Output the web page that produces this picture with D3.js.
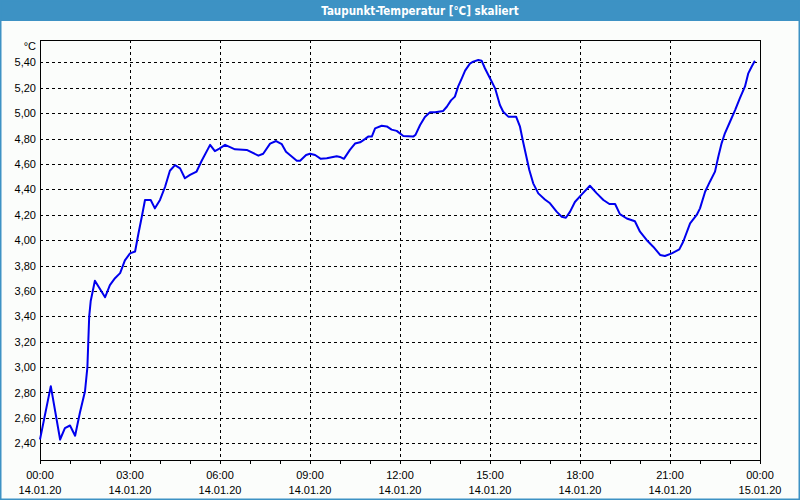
<!DOCTYPE html>
<html>
<head>
<meta charset="utf-8">
<script src="https://cdn.jsdelivr.net/npm/d3@7"></script>
<style>
  html, body { margin: 0; padding: 0; background: #fbfdfb; }
  svg { display: block; }
</style>
</head>
<body>
<svg id="chart" width="800" height="500"></svg>
<script>
// ---- data ----
const chartTitle = "Taupunkt-Temperatur [°C] skaliert";
const unitLabel = "°C";
const hours = [
  0.00, 0.36, 0.67, 0.83, 1.00, 1.17, 1.33, 1.50, 1.58, 1.64, 1.69, 1.83, 2.17, 2.33, 2.50, 2.67, 2.83,
  3.00, 3.17, 3.28, 3.39, 3.50, 3.69, 3.83, 4.00, 4.17, 4.33, 4.50, 4.67, 4.83, 5.00, 5.22, 5.39,
  5.67, 5.83, 5.98, 6.17, 6.50, 6.89, 7.28, 7.44, 7.67, 7.87, 8.06, 8.20, 8.56, 8.67, 8.87, 9.00,
  9.17, 9.36, 9.56, 9.89, 10.00, 10.13, 10.33, 10.50, 10.67, 10.83, 10.94, 11.06, 11.17, 11.39,
  11.56, 11.72, 11.89, 12.11, 12.44, 12.52, 12.67, 12.83, 13.00, 13.17, 13.44, 13.56, 13.70, 13.83,
  13.94, 14.06, 14.17, 14.33, 14.44, 14.61, 14.72, 14.83, 15.00, 15.17, 15.33, 15.44, 15.61, 15.87,
  16.00, 16.09, 16.20, 16.31, 16.44, 16.61, 16.83, 17.00, 17.22, 17.39, 17.53, 17.67, 17.83, 18.06,
  18.33, 18.56, 18.78, 18.98, 19.17, 19.33, 19.56, 19.83, 20.00, 20.22, 20.44, 20.67, 20.83, 21.06,
  21.31, 21.44, 21.67, 21.89, 22.00, 22.17, 22.33, 22.50, 22.61, 22.72, 22.83, 23.00, 23.17, 23.33,
  23.50, 23.61, 23.72, 23.83
];
const dewPoint = [
  2.43, 2.85, 2.43, 2.52, 2.54, 2.46, 2.64, 2.81, 3.00, 3.40, 3.52, 3.68, 3.55, 3.645, 3.70, 3.74, 3.84,
  3.895, 3.91, 4.05, 4.18, 4.316, 4.316, 4.25, 4.316, 4.42, 4.546, 4.59, 4.565, 4.487, 4.513, 4.54, 4.625,
  4.75, 4.70, 4.72, 4.75, 4.715, 4.71, 4.665, 4.68, 4.76, 4.78, 4.755, 4.695, 4.625, 4.625, 4.67, 4.68,
  4.67, 4.64, 4.645, 4.66, 4.655, 4.64, 4.71, 4.76, 4.77, 4.795, 4.815, 4.815, 4.88, 4.90,
  4.895, 4.87, 4.86, 4.82, 4.815, 4.83, 4.906, 4.97, 5.006, 5.006, 5.017, 5.05, 5.10, 5.13,
  5.21, 5.274, 5.334, 5.39, 5.405, 5.418, 5.413, 5.353, 5.274, 5.195, 5.064, 5.011, 4.972, 4.972,
  4.893, 4.788, 4.67, 4.552, 4.447, 4.368, 4.32, 4.29, 4.224, 4.184, 4.176, 4.224, 4.30, 4.36,
  4.428, 4.368, 4.316, 4.284, 4.284, 4.205, 4.17, 4.148, 4.066, 4.001, 3.948, 3.883, 3.875, 3.896,
  3.927, 3.987, 4.132, 4.198, 4.25, 4.381, 4.46, 4.539, 4.657, 4.762, 4.841, 4.932, 5.024, 5.117,
  5.21, 5.313, 5.365, 5.413
];
const yTicks = [2.4, 2.6, 2.8, 3.0, 3.2, 3.4, 3.6, 3.8, 4.0, 4.2, 4.4, 4.6, 4.8, 5.0, 5.2, 5.4];
const xMajorHours = [0, 3, 6, 9, 12, 15, 18, 21, 24];
const xTimeLabels = ["00:00", "03:00", "06:00", "09:00", "12:00", "15:00", "18:00", "21:00", "00:00"];
const xDateLabels = ["14.01.20", "14.01.20", "14.01.20", "14.01.20", "14.01.20", "14.01.20", "14.01.20", "14.01.20", "15.01.20"];
const xMinorHours = d3.range(0, 25, 1);

// ---- layout ----
const W = 800, H = 500;
const plot = { left: 40, top: 40, right: 760, bottom: 460 };
const svg = d3.select("#chart");
const font = "'Liberation Sans', Arial, sans-serif";

// window frame + title bar
svg.append("rect").attr("x", 0).attr("y", 0).attr("width", W).attr("height", H).attr("fill", "#fbfdfb");
svg.append("rect").attr("x", 0).attr("y", 0).attr("width", W).attr("height", 21).attr("fill", "#3d92c4");
svg.append("rect").attr("x", 0.5).attr("y", 0.5).attr("width", W - 1).attr("height", H - 1)
  .attr("fill", "none").attr("stroke", "#3d92c4").attr("stroke-width", 2);
svg.append("text").attr("x", 420).attr("y", 15).attr("text-anchor", "middle")
  .attr("font-family", "'DejaVu Sans Condensed', 'DejaVu Sans', sans-serif").attr("font-weight", "bold")
  .attr("font-size", "11.5px").attr("fill", "#ffffff").text(chartTitle);

// scales
const x = d3.scaleLinear().domain([0, 24]).range([plot.left, plot.right]);
const y = d3.scaleLinear().domain([2.2685, 5.5756]).range([plot.bottom, plot.top]);

// grid
const grid = svg.append("g").attr("stroke", "#000").attr("stroke-width", 1)
  .attr("stroke-dasharray", "3,3").attr("shape-rendering", "crispEdges");
grid.selectAll("line.h").data(yTicks).join("line").attr("class", "h")
  .attr("x1", plot.left).attr("x2", plot.right)
  .attr("y1", d => Math.round(y(d)) + 0.5).attr("y2", d => Math.round(y(d)) + 0.5);
grid.selectAll("line.v").data(xMajorHours.filter(h => h > 0 && h < 24)).join("line").attr("class", "v")
  .attr("y1", plot.top).attr("y2", plot.bottom)
  .attr("x1", d => Math.round(x(d)) + 0.5).attr("x2", d => Math.round(x(d)) + 0.5);

// plot frame
svg.append("rect").attr("x", plot.left + 0.5).attr("y", plot.top + 0.5)
  .attr("width", plot.right - plot.left).attr("height", plot.bottom - plot.top)
  .attr("fill", "none").attr("stroke", "#000").attr("stroke-width", 1).attr("shape-rendering", "crispEdges");

// y axis labels
const yAxis = d3.axisLeft(y).tickValues(yTicks).tickSize(0).tickPadding(4)
  .tickFormat(d => d3.format(".2f")(d).replace(".", ","));
const gy = svg.append("g").attr("transform", `translate(${plot.left},0)`).call(yAxis);
gy.select(".domain").remove();
gy.selectAll("text").attr("font-family", font).attr("font-size", "11px").attr("fill", "#000");

svg.append("text").attr("x", 36).attr("y", 50).attr("text-anchor", "end")
  .attr("font-family", font).attr("font-size", "11px").attr("fill", "#000").text(unitLabel);

// x axis minor ticks
const xAxis = d3.axisBottom(x).tickValues(xMinorHours).tickSize(3).tickFormat("");
const gx = svg.append("g").attr("transform", `translate(0,${plot.bottom + 0.5})`).call(xAxis);
gx.select(".domain").remove();
gx.selectAll("line").attr("stroke", "#000").attr("shape-rendering", "crispEdges");

// x labels (two lines)
const xl = svg.append("g").attr("font-family", font).attr("font-size", "11px").attr("fill", "#000")
  .attr("text-anchor", "middle");
xl.selectAll("text.t").data(xMajorHours).join("text").attr("class", "t")
  .attr("x", d => x(d)).attr("y", 479).text((d, i) => xTimeLabels[i]);
xl.selectAll("text.d").data(xMajorHours).join("text").attr("class", "d")
  .attr("x", d => x(d)).attr("y", 494).text((d, i) => xDateLabels[i]);

// series line
const pts = hours.map((h, i) => [h, dewPoint[i]]);
const line = d3.line().x(d => x(d[0])).y(d => y(d[1]));
svg.append("path").datum(pts).attr("d", line).attr("fill", "none")
  .attr("stroke", "#0000ee").attr("stroke-width", 2).attr("stroke-linejoin", "round");
</script>
</body>
</html>
